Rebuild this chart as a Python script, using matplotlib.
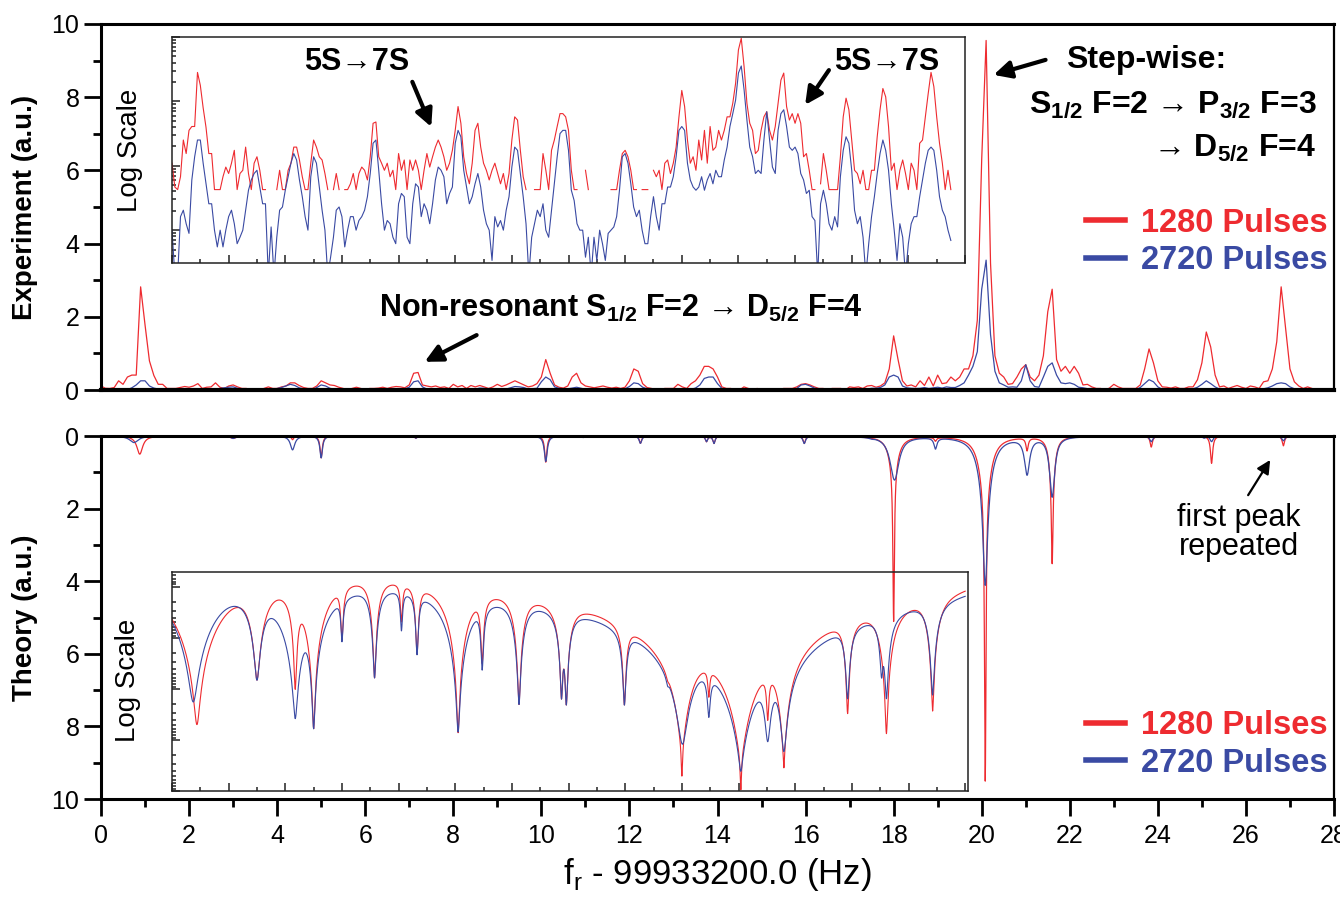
import numpy as np
import matplotlib.pyplot as plt
from matplotlib.lines import Line2D
from matplotlib.ticker import MultipleLocator, LogLocator, NullFormatter

plt.rcParams['font.family'] = ['Liberation Sans', 'DejaVu Sans']
plt.rcParams['mathtext.fontset'] = 'custom'
plt.rcParams['mathtext.rm'] = 'Liberation Sans'
plt.rcParams['mathtext.bf'] = 'Liberation Sans:bold'

RED = '#ee2b30'
BLUE = '#3a4aa3'
nan = np.nan

# Experiment: log10 of the signal (a.u.), one value every 0.1 Hz from 0 to 27.5 Hz
# (nan = no counts, shown as 0 on the linear plot and as a gap on the log inset)
exp_step = 0.1
exp_red_log = [
    -0.96, -1.33, -1.37, -1.17, -0.60, -0.81, -0.45, -0.39, -0.39, 0.45,
    0.25, -0.10, -0.40, -0.81, -0.81, -1.37, -1.37, -1.37, -1.17, -1.02,
    -1.12, -0.96, -0.76, -1.37, -1.12, -1.07, -0.71, -1.12, -1.37, -0.96,
    -0.86, -1.07, -1.37, -1.37, nan, nan, nan, -1.37, -1.07, -1.37,
    -1.37, -1.07, -0.96, -0.71, -0.71, -0.91, -1.17, -1.37, -1.37, -0.96,
    -0.60, -0.71, -0.86, -0.91, -1.12, -1.37, nan, -1.37, -1.12, -1.37,
    nan, -1.37, -1.37, -1.28, -1.12, -1.37, -1.12, -1.02, -1.07, -1.22,
    -0.86, -0.34, -0.32, -0.86, -0.96, -1.07, -0.96, -1.17, -1.07, -1.37,
    -0.81, -1.07, -0.91, -1.37, -0.91, -1.07, -0.91, -1.07, -1.37, -1.07,
    -0.81, -1.02, -0.86, -0.71, -0.60, -0.71, -0.86, -1.07, -0.96, -0.76,
    -0.45, -0.08, -0.34, -0.86, -1.12, -1.28, -0.96, -0.45, -0.34, -0.71,
    -0.96, -1.07, -1.22, -1.07, -0.96, -1.12, -1.28, -1.12, -1.37, -1.12,
    -0.60, -0.24, -0.29, -0.76, -1.17, -1.37, nan, nan, -1.37, -1.37,
    -1.37, -0.81, -1.07, -1.37, -0.76, -0.60, -0.39, -0.19, -0.19, -0.24,
    -0.45, -1.07, -1.37, -1.37, nan, nan, -1.07, -1.37, nan, -1.37,
    nan, nan, nan, nan, nan, -1.37, -1.37, -1.37, -1.07, -0.81,
    -0.76, -0.86, -1.07, -1.37, -1.37, nan, -1.37, -1.37, -1.37, nan,
    -1.07, -1.17, -1.07, -1.37, -0.96, -0.91, -1.12, -0.96, -0.71, -0.24,
    0.17, -0.08, -0.60, -0.96, -0.86, -1.07, -0.60, -0.91, -0.45, -0.96,
    -0.39, -0.76, -0.71, -0.45, -0.60, -0.45, -0.24, -0.24, -0.03, 0.28,
    0.80, 0.98, 0.54, -0.03, -0.34, -0.45, -0.81, -0.76, -0.45, -0.24,
    -0.16, -0.45, -0.60, -0.39, -0.03, 0.33, 0.44, -0.08, -0.29, -0.19,
    -0.34, -0.19, -0.34, -0.86, -0.81, -1.07, -1.37, -1.37, nan, -1.28,
    -0.81, -1.07, -1.37, -1.37, -1.37, -1.37, -0.86, -0.24, 0.05, -0.13,
    -0.60, -1.07, -1.12, -1.28, -1.07, -1.37, -1.37, -1.07, -1.07, -0.55,
    -0.13, 0.20, 0.07, -0.39, -1.07, -0.96, -1.37, -1.07, -0.91, -1.12,
    -1.37, -0.96, -1.07, -1.37, -0.65, -0.60, -0.24, 0.12, 0.45, 0.23,
    -0.24, -0.65, -0.96, -1.37, -1.07, -1.37,
]
exp_blue_log = [
    -2.00, -2.70, -2.70, -1.79, -1.69, -1.90, -2.05, -1.22, -0.86, -0.60,
    -0.60, -0.96, -1.28, -1.59, -1.59, -2.00, -2.26, -2.00, -2.26, -2.00,
    -1.79, -1.69, -1.90, -2.21, -2.11, -2.00, -1.69, -1.38, -1.22, -1.12,
    -1.07, -1.33, -1.59, -1.59, -2.70, -1.95, -2.70, -2.11, -1.69, -1.64,
    -1.38, -1.17, -0.96, -0.81, -0.91, -1.22, -1.48, -1.79, -2.00, -1.17,
    -0.86, -0.96, -1.33, -1.69, -2.00, -2.70, -2.42, -2.11, -1.69, -1.64,
    -1.79, -2.26, -2.00, -1.79, -1.79, -2.00, -1.85, -1.79, -1.69, -1.48,
    -1.12, -0.65, -0.60, -1.07, -1.59, -2.00, -1.85, -1.90, -2.11, -2.21,
    -1.59, -1.43, -1.48, -2.11, -2.21, -1.59, -1.28, -1.33, -1.79, -1.59,
    -1.69, -1.90, -1.59, -1.22, -1.02, -1.07, -1.17, -1.59, -1.43, -1.33,
    -0.65, -0.45, -0.55, -1.07, -1.33, -1.59, -1.48, -1.28, -1.12, -1.33,
    -1.69, -1.90, -2.00, -2.47, -1.79, -1.95, -1.85, -2.00, -1.69, -1.48,
    -1.02, -0.71, -0.76, -1.12, -1.48, -1.90, -2.70, -2.11, -1.90, -1.69,
    -1.79, -1.59, -2.00, -2.11, -1.69, -1.28, -0.86, -0.50, -0.45, -0.45,
    -0.76, -1.38, -1.54, -1.90, -2.00, -2.00, -2.42, -2.11, -2.70, -2.11,
    -2.47, -2.00, -2.21, -2.47, -2.05, -2.00, -1.95, -1.79, -1.38, -0.86,
    -0.81, -0.96, -1.28, -1.64, -1.79, -1.69, -2.00, -2.21, -2.21, -1.79,
    -1.48, -1.79, -2.00, -1.59, -1.59, -1.33, -1.33, -1.17, -0.86, -0.45,
    -0.39, -0.45, -0.96, -1.22, -1.33, -1.38, -1.33, -1.17, -1.38, -1.22,
    -1.12, -1.28, -1.07, -1.17, -1.17, -0.91, -0.71, -0.39, -0.19, 0.02,
    0.44, 0.55, 0.18, -0.29, -0.71, -0.86, -1.12, -1.07, -1.12, -0.60,
    -0.16, -0.60, -1.02, -1.12, -0.45, -0.19, -0.13, -0.39, -0.71, -0.76,
    -0.71, -0.81, -1.12, -1.22, -1.43, -1.38, -1.79, -1.85, -2.70, -1.59,
    -1.38, -1.59, -1.90, -2.00, -1.79, -1.95, -1.17, -0.76, -0.55, -0.65,
    -1.07, -1.69, -1.90, -1.79, -2.11, -2.70, -2.21, -1.79, -1.48, -1.12,
    -0.81, -0.60, -0.76, -1.07, -1.59, -2.00, -2.47, -1.90, -2.11, -2.70,
    -2.21, -1.90, -1.79, -1.79, -1.48, -1.22, -0.96, -0.76, -0.71, -0.76,
    -1.07, -1.48, -1.69, -1.79, -2.00, -2.16,
]

# Theory: resonance lines (centre Hz, height a.u., half width Hz)
th_red_centre = [0.88, 3.0, 4.35, 5.0, 6.0, 7.15, 8.1, 8.65, 10.1, 10.95, 12.25, 13.75, 13.92,
                 15.97, 17.5, 18.0, 18.0, 18.95, 20.08, 20.08, 21.03, 21.6, 21.6, 23.85, 25.22, 26.85]
th_red_height = [0.5, 0.066, 0.1, 0.6, 0.01, 0.06, 0.004, 0.02, 0.72, 0.03, 0.2, 0.15, 0.2,
                 0.2, 0.01, 4.2, 0.9, 0.1, 8.0, 1.5, 0.35, 2.2, 1.3, 0.3, 0.75, 0.27]
th_red_width = [0.08, 0.07, 0.03, 0.03, 0.03, 0.03, 0.03, 0.03, 0.03, 0.03, 0.03, 0.03, 0.03,
                0.03, 0.05, 0.02, 0.12, 0.03, 0.02, 0.15, 0.03, 0.02, 0.07, 0.03, 0.03, 0.03]

th_blue_centre = [0.75, 3.0, 4.35, 5.0, 6.0, 7.15, 8.1, 8.65, 10.1, 10.95, 12.25, 13.75, 13.92,
                  15.97, 17.5, 18.02, 18.95, 20.08, 20.08, 21.03, 21.6, 23.85, 25.05, 25.22, 26.85]
th_blue_height = [0.18, 0.066, 0.38, 0.6, 0.01, 0.06, 0.006, 0.02, 0.7, 0.04, 0.2, 0.15, 0.2,
                  0.2, 0.02, 1.2, 0.3, 2.8, 1.3, 1.0, 1.65, 0.15, 0.05, 0.15, 0.13]
th_blue_width = [0.12, 0.07, 0.06, 0.035, 0.03, 0.035, 0.03, 0.03, 0.04, 0.03, 0.035, 0.03, 0.03,
                 0.035, 0.05, 0.12, 0.04, 0.06, 0.18, 0.07, 0.07, 0.04, 0.04, 0.04, 0.04]


def lines_sum(x, centre, height, width):
    c = np.asarray(centre)[:, None]
    h = np.asarray(height)[:, None]
    w = np.asarray(width)[:, None]
    return (h * w ** 2 / ((x - c) ** 2 + w ** 2)).sum(axis=0)


f_exp = np.arange(len(exp_red_log)) * exp_step
red_log = np.array(exp_red_log)
blue_log = np.array(exp_blue_log)
red_lin = np.where(np.isnan(red_log), 0.0, 10 ** red_log)
blue_lin = 10 ** blue_log

f_th = np.linspace(0, 28, 5601)
th_red = lines_sum(f_th, th_red_centre, th_red_height, th_red_width)
th_blue = lines_sum(f_th, th_blue_centre, th_blue_height, th_blue_width)

W, H = 1340, 905
fig = plt.figure(figsize=(W / 100, H / 100), dpi=100)
ax1 = fig.add_axes([101 / W, 1 - 390 / H, 1233 / W, 366 / H])
ax2 = fig.add_axes([101 / W, 1 - 799 / H, 1233 / W, 363 / H])
ins1 = fig.add_axes([172 / W, 1 - 263 / H, 793 / W, 226 / H], facecolor='none')
ins2 = fig.add_axes([172 / W, 1 - 791 / H, 796 / W, 219 / H], facecolor='none')

# main panels
ax1.plot(f_exp, red_lin, color=RED, lw=0.9)
ax1.plot(f_exp, blue_lin, color=BLUE, lw=0.9)
ax2.plot(f_th, th_red, color=RED, lw=0.9)
ax2.plot(f_th, th_blue, color=BLUE, lw=0.9)

ax1.set_xlim(0, 28)
ax1.set_ylim(0, 10)
ax2.set_xlim(0, 28)
ax2.set_ylim(10, 0)

for ax in (ax1, ax2):
    ax.yaxis.set_major_locator(MultipleLocator(2))
    ax.yaxis.set_minor_locator(MultipleLocator(1))
    ax.xaxis.set_major_locator(MultipleLocator(2))
    ax.xaxis.set_minor_locator(MultipleLocator(1))
    ax.tick_params(which='major', direction='out', length=12, width=2, labelsize=18)
    ax.tick_params(which='minor', direction='out', length=6, width=2)
    for side in ('left', 'top', 'bottom'):
        ax.spines[side].set_linewidth(2.2)
    ax.spines['right'].set_linewidth(1.6)
ax1.spines['bottom'].set_linewidth(3)
ax1.tick_params(axis='x', which='both', bottom=False, labelbottom=False)
ax2.tick_params(axis='x', which='major', pad=6)

ax1.set_ylabel('Experiment (a.u.)', fontsize=20, fontweight='bold')
ax2.set_ylabel('Theory (a.u.)', fontsize=20, fontweight='bold')
ax1.yaxis.set_label_coords(-0.051, 0.5)
ax2.yaxis.set_label_coords(-0.051, 0.5)
ax2.set_xlabel(r'f$_\mathrm{r}$ - 99933200.0 (Hz)', fontsize=25, labelpad=6)

# log scale insets
ins1.plot(f_exp, 10 ** red_log, color=RED, lw=0.8)
ins1.plot(f_exp, blue_lin, color=BLUE, lw=0.8)
ins1.set_yscale('log')
ins1.set_xlim(0, 28)
ins1.set_ylim(10 ** -2.51, 10)

ins2.plot(f_th, th_red, color=RED, lw=0.8)
ins2.plot(f_th, th_blue, color=BLUE, lw=0.8)
ins2.set_yscale('log')
ins2.set_xlim(0, 28.1)
ins2.set_ylim(10, 10 ** -3.29)

for ins in (ins1, ins2):
    ins.xaxis.set_major_locator(MultipleLocator(2))
    ins.xaxis.set_minor_locator(MultipleLocator(1))
    ins.yaxis.set_major_locator(LogLocator(base=10))
    ins.yaxis.set_minor_locator(LogLocator(base=10, subs=np.arange(2, 10)))
    ins.yaxis.set_minor_formatter(NullFormatter())
    ins.tick_params(which='both', direction='in', labelbottom=False, labelleft=False,
                    width=1.1, color='#222222')
    ins.tick_params(which='major', length=6)
    ins.tick_params(which='minor', length=3)
    for sp in ins.spines.values():
        sp.set_linewidth(1.1)
        sp.set_color('#222222')

fig.text(130 / W, 1 - 150 / H, 'Log Scale', rotation=90, fontsize=20, ha='center', va='center')
fig.text(128 / W, 1 - 680 / H, 'Log Scale', rotation=90, fontsize=20, ha='center', va='center')

# annotations
bold = dict(fontsize=22, fontweight='bold')
arrow = dict(arrowstyle='-|>', lw=3, color='black', mutation_scale=26, shrinkA=0, shrinkB=0)
ax1.text(5.8, 8.96, '5S\u21927S', ha='center', va='center', **bold)
ax1.annotate('', xy=(7.5, 7.19), xytext=(7.07, 8.42), arrowprops=arrow)
ax1.text(17.85, 8.96, '5S\u21927S', ha='center', va='center', **bold)
ax1.annotate('', xy=(15.99, 7.79), xytext=(16.53, 8.74), arrowprops=arrow)
ax1.text(23.74, 9.02, 'Step-wise:', ha='center', va='center', fontsize=23, fontweight='bold')
ax1.annotate('', xy=(20.27, 8.61), xytext=(21.45, 9.02), arrowprops=arrow)
ax1.text(27.6, 7.79, 'S$_\\mathbf{1/2}$ F=2 \u2192 P$_\\mathbf{3/2}$ F=3',
         ha='right', va='center', fontsize=23, fontweight='bold')
ax1.text(27.6, 6.61, '\u2192 D$_\\mathbf{5/2}$ F=4',
         ha='right', va='center', fontsize=23, fontweight='bold')
ax1.text(11.81, 2.24, 'Non-resonant S$_\\mathbf{1/2}$ F=2 \u2192 D$_\\mathbf{5/2}$ F=4',
         ha='center', va='center', **bold)
ax1.annotate('', xy=(7.35, 0.77), xytext=(8.53, 1.5), arrowprops=arrow)

ax2.text(25.83, 2.67, 'first peak\nrepeated', ha='center', va='center', fontsize=22,
         linespacing=0.95)
ax2.annotate('', xy=(26.55, 0.66), xytext=(26.05, 1.63),
             arrowprops=dict(arrowstyle='-|>', lw=1.6, color='black', mutation_scale=20,
                             shrinkA=0, shrinkB=0))

handles = [Line2D([], [], color=RED, lw=4), Line2D([], [], color=BLUE, lw=4)]
labels = ['1280 Pulses', '2720 Pulses']
for ax, yc in ((ax1, 0.404), (ax2, 0.15)):
    ax.legend(handles, labels, loc='center right', bbox_to_anchor=(0.995, yc),
              frameon=False, prop={'weight': 'bold', 'size': 23.5},
              labelcolor=[RED, BLUE], handlelength=1.2, handletextpad=0.5,
              labelspacing=0.2, borderpad=0, borderaxespad=0)

fig.savefig('out.png', dpi=100)
